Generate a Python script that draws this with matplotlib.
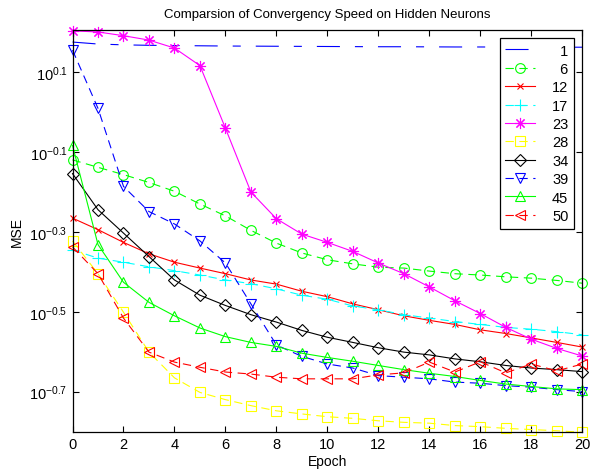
import matplotlib
matplotlib.use('Agg')
import matplotlib.pyplot as plt
from matplotlib.ticker import FixedLocator, NullLocator

plt.rcParams['font.family'] = ['Liberation Sans', 'DejaVu Sans']
plt.rcParams['mathtext.fontset'] = 'custom'
plt.rcParams['mathtext.rm'] = 'Liberation Sans'
plt.rcParams['lines.scale_dashes'] = False

# data (MSE per epoch)
epochs = list(range(21))
labels = ['1', '6', '12', '17', '23', '28', '34', '39', '45', '50']

mse_1 = [1.500, 1.483, 1.476, 1.472, 1.470, 1.468, 1.466, 1.465, 1.464, 1.463, 1.462,
         1.461, 1.460, 1.460, 1.459, 1.458, 1.458, 1.457, 1.457, 1.456, 1.456]
mse_6 = [0.760, 0.728, 0.698, 0.667, 0.634, 0.589, 0.550, 0.506, 0.470, 0.444, 0.427,
         0.417, 0.409, 0.407, 0.400, 0.394, 0.391, 0.387, 0.384, 0.379, 0.373]
mse_12 = [0.543, 0.508, 0.472, 0.442, 0.421, 0.407, 0.394, 0.380, 0.371, 0.356, 0.345,
          0.331, 0.320, 0.309, 0.301, 0.294, 0.285, 0.279, 0.272, 0.265, 0.258]
mse_17 = [0.452, 0.431, 0.421, 0.410, 0.401, 0.391, 0.380, 0.372, 0.361, 0.348, 0.340,
          0.327, 0.320, 0.311, 0.305, 0.299, 0.294, 0.289, 0.286, 0.282, 0.277]
mse_23 = [1.600, 1.590, 1.556, 1.517, 1.449, 1.309, 0.912, 0.631, 0.541, 0.495, 0.472,
          0.448, 0.419, 0.394, 0.365, 0.337, 0.313, 0.289, 0.270, 0.256, 0.245]
mse_28 = [0.476, 0.394, 0.3155, 0.2506, 0.216, 0.1986, 0.1905, 0.184, 0.1786, 0.1754, 0.1726,
          0.171, 0.1686, 0.1671, 0.1663, 0.164, 0.163, 0.1614, 0.1603, 0.1592, 0.1578]
mse_34 = [0.702, 0.570, 0.498, 0.435, 0.380, 0.348, 0.328, 0.311, 0.298, 0.284, 0.273,
          0.265, 0.257, 0.2506, 0.2466, 0.241, 0.237, 0.232, 0.2286, 0.2265, 0.2239]
mse_39 = [1.432, 1.023, 0.652, 0.564, 0.525, 0.476, 0.419, 0.331, 0.261, 0.2445, 0.234,
          0.2286, 0.2188, 0.2168, 0.2148, 0.2108, 0.2094, 0.2065, 0.2047, 0.2018, 0.1995]
mse_45 = [0.826, 0.466, 0.375, 0.334, 0.309, 0.288, 0.274, 0.265, 0.259, 0.249, 0.243,
          0.2377, 0.232, 0.2265, 0.2218, 0.2177, 0.2128, 0.2084, 0.2055, 0.2027, 0.2018]
mse_50 = [0.460, 0.394, 0.305, 0.2506, 0.2366, 0.2296, 0.2234, 0.2208, 0.2168, 0.2148, 0.2148,
          0.2148, 0.2198, 0.2223, 0.2366, 0.2234, 0.237, 0.2223, 0.234, 0.2249, 0.234]

ytick_vals = [10 ** 0.1, 10 ** -0.1, 10 ** -0.3, 10 ** -0.5, 10 ** -0.7]
ytick_labels = [r'$\mathregular{10^{0.1}}$', r'$\mathregular{10^{-0.1}}$', r'$\mathregular{10^{-0.3}}$',
                r'$\mathregular{10^{-0.5}}$', r'$\mathregular{10^{-0.7}}$']

fig = plt.figure(figsize=(5.91, 4.77), dpi=100)
ax = fig.add_axes([0.1227, 0.0916, 0.8626, 0.844])

dash = (6, 4)
dashdot = (16.6, 10.8, 5.8, 10.8)
lw = 0.8
asterisk = (8, 2, 0)
series = [
    (mse_1, '#0000ff', None, 7, dashdot),
    (mse_6, '#00ff00', 'o', 7, dash),
    (mse_12, '#ff0000', 'x', 4.5, None),
    (mse_17, '#00ffff', '+', 8, dash),
    (mse_23, '#ff00ff', asterisk, 8, None),
    (mse_28, '#ffff00', 's', 7, dash),
    (mse_34, '#000000', 'D', 6.5, None),
    (mse_39, '#0000ff', 'v', 7.5, dash),
    (mse_45, '#00ff00', '^', 7.5, None),
    (mse_50, '#ff0000', '<', 7.5, dash),
]
for (vals, col, mk, size, ds), lab in zip(series, labels):
    line, = ax.plot(epochs, vals, color=col, marker=mk, markersize=size,
                    markerfacecolor='none', markeredgewidth=lw, linewidth=lw,
                    label=lab.rjust(2, '\u2007'), clip_on=False)
    if ds is not None:
        line.set_dashes(ds)

ax.set_yscale('log')
ax.set_ylim(10 ** -0.802, 10 ** 0.207)
ax.set_xlim(0, 20)
ax.set_xticks(range(0, 21, 2))
ax.yaxis.set_major_locator(FixedLocator(ytick_vals))
ax.yaxis.set_minor_locator(NullLocator())
ax.set_yticklabels(ytick_labels)
ax.tick_params(direction='in', top=True, right=True, length=4, width=0.8, labelsize=10.5)
for sp in ax.spines.values():
    sp.set_linewidth(0.9)

ax.set_title('Comparsion of Convergency Speed on Hidden Neurons', fontsize=9.5, pad=9)
ax.set_xlabel('Epoch', fontsize=10, labelpad=2)
ax.set_ylabel('MSE', fontsize=10, labelpad=4)

leg = ax.legend(loc='upper right', fancybox=False, edgecolor='k', framealpha=1,
                fontsize=10.5, handlelength=2.0, labelspacing=0.3, borderaxespad=0.55,
                handletextpad=1.2, borderpad=0.4)
leg.get_frame().set_linewidth(0.9)

fig.savefig('out.png', dpi=100)
